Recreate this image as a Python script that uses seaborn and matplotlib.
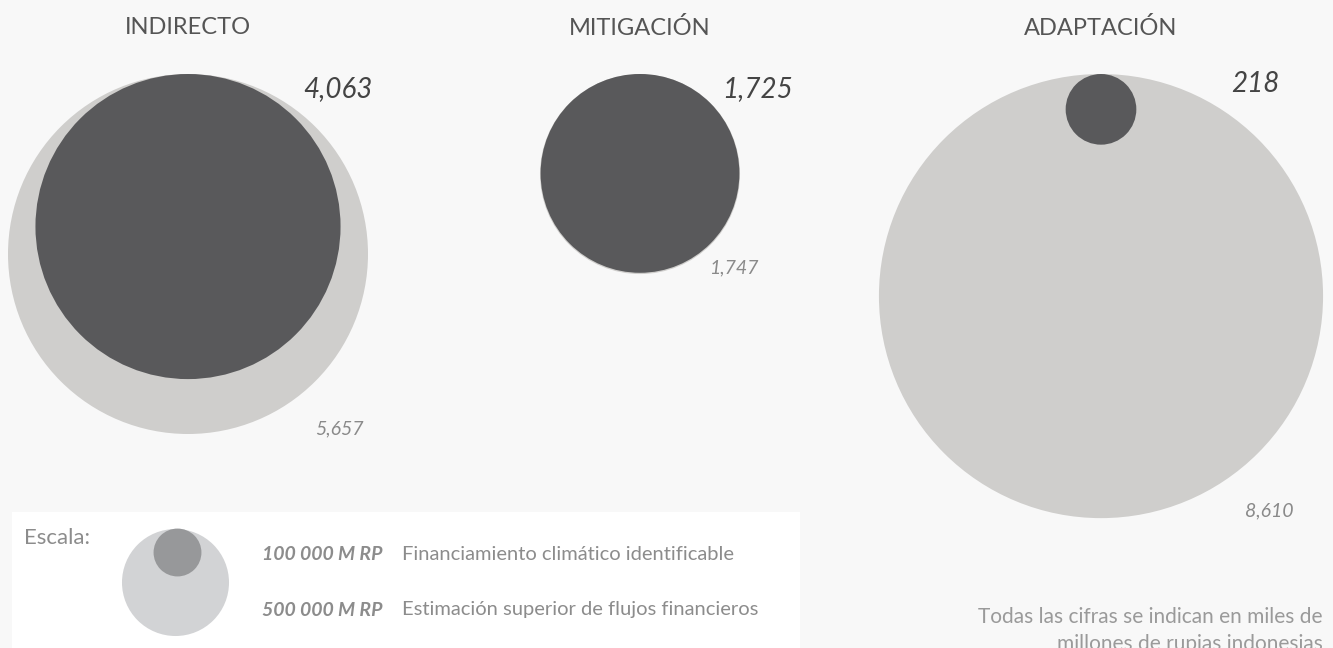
import numpy as np
import pandas as pd
import matplotlib.pyplot as plt
import matplotlib.patches as mpatches
import seaborn as sns

# Data (miles de millones de rupias indonesias)
categories = ["INDIRECTO", "MITIGACIÓN", "ADAPTACIÓN"]
upper_estimate = [5657, 1747, 8610]      # estimación superior de flujos
identified = [4063, 1725, 218]           # financiamiento climático identificable
upper_labels = ["5,657", "1,747", "8,610"]
identified_labels = ["4,063", "1,725", "218"]

legend_values = [500, 100]
legend_labels = ["500 000 M RP", "100 000 M RP"]
legend_texts = ["Estimación superior de flujos financieros",
                "Financiamiento climático identificable"]

# Layout (pixel coordinates, figure is 1333x648 at dpi 100)
W, H, DPI = 1333, 648, 100
centers_x = [188, 640, 1101]
circle_top = 74
px_per_sqrt = 180 / np.sqrt(5657)        # radius in px per sqrt(value)
dark_lab_pos = [(303, 89), (722, 89), (1231, 84)]
light_lab_pos = [(315, 429), (709, 268), (1245, 511)]

BG = "#f8f8f8"
LIGHT = "#cfcecc"
DARK = "#59595b"

sns.set_theme(style="white")
plt.rcParams["font.family"] = ["Lato", "DejaVu Sans"]


def radius(v):
    return px_per_sqrt * np.sqrt(np.asarray(v, dtype=float))


def marker_area(r_px):
    # scatter size is (diameter in points)^2
    return (2 * r_px * 72 / DPI) ** 2


fig = plt.figure(figsize=(W / DPI, H / DPI), dpi=DPI, facecolor=BG)
ax = fig.add_axes([0, 0, 1, 1])
ax.set_facecolor(BG)
ax.set_xlim(0, W)
ax.set_ylim(H, 0)
ax.set_axis_off()

r_up = radius(upper_estimate)
r_id = radius(identified)
df = pd.DataFrame({
    "cat": categories,
    "x": centers_x,
    "y_up": circle_top + r_up,
    "y_id": circle_top + r_id,
})

sns.scatterplot(data=df, x="x", y="y_up", s=marker_area(r_up), color=LIGHT,
                linewidth=0, legend=False, ax=ax, zorder=2)
sns.scatterplot(data=df, x="x", y="y_id", s=marker_area(r_id), color=DARK,
                linewidth=0, legend=False, ax=ax, zorder=3)

for cx, name in zip(centers_x, categories):
    ax.text(cx, 28, name, ha="center", va="center", fontsize=17, color="#555555")

for (lx, ly), lab in zip(dark_lab_pos, identified_labels):
    ax.text(lx, ly, lab, ha="left", va="center", fontsize=20, style="italic",
            color="#444444", zorder=5)
for (lx, ly), lab in zip(light_lab_pos, upper_labels):
    ax.text(lx, ly, lab, ha="left", va="center", fontsize=14, style="italic",
            color="#8a8a8a", zorder=5)

# Legend box
ax.add_patch(mpatches.Rectangle((12, 512), 788, 160, facecolor="white",
                                edgecolor="none", zorder=1))
ax.text(24, 538, "Escala:", ha="left", va="center", fontsize=16, color="#8c8c8c")
r_leg = radius(legend_values)
leg_df = pd.DataFrame({"x": [175, 177], "y": 528 + r_leg})
sns.scatterplot(data=leg_df.iloc[[0]], x="x", y="y", s=marker_area(r_leg[:1]),
                color="#d2d3d5", linewidth=0, legend=False, ax=ax, zorder=2)
sns.scatterplot(data=leg_df.iloc[[1]], x="x", y="y", s=marker_area(r_leg[1:]),
                color="#97989a", linewidth=0, legend=False, ax=ax, zorder=3)

for ty, lab, txt in zip([610, 555], legend_labels, legend_texts):
    ax.text(383, ty, lab, ha="right", va="center", fontsize=14, style="italic",
            fontweight="bold", color="#8c8c8c")
    ax.text(402, ty, txt, ha="left", va="center", fontsize=14.5, color="#8c8c8c")

ax.text(1323, 607, "Todas las cifras se indican en miles de\nmillones de rupias indonesias",
        ha="right", va="top", multialignment="right", fontsize=15,
        color="#9a9a9a", linespacing=1.45)

fig.savefig("out.png", dpi=DPI, facecolor=BG)
